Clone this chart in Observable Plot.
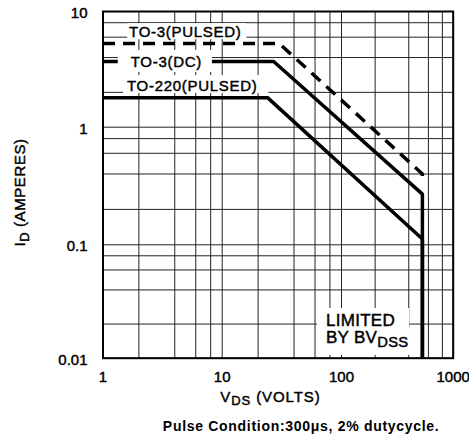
<!DOCTYPE html>
<html>
<head>
<meta charset="utf-8">
<script src="https://cdn.jsdelivr.net/npm/d3@7"></script>
<script src="https://cdn.jsdelivr.net/npm/@observablehq/plot@0.6"></script>
<style>
  body { margin: 0; background: white; }
</style>
</head>
<body>
<div id="chart"></div>
<script>
// ---- data ----
const xGrid = [1, 2, 4, 6, 8, 10, 20, 40, 60, 80, 100, 200, 400, 600, 800, 1000];
const yGrid = [0.01, 0.02, 0.04, 0.06, 0.08, 0.1, 0.2, 0.4, 0.6, 0.8, 1, 2, 4, 6, 8, 10];
const xTicks = [1, 10, 100, 1000];
const xTickLabels = ["1", "10", "100", "1000"];
const yTicks = [0.01, 0.1, 1, 10];
const yTickLabels = ["0.01", "0.1", "1", "10"];

// TO-3 (pulsed), dashed
const pulsedV = [1, 30, 530, 530];
const pulsedI = [5.3, 5.3, 0.40, 0.34];
// TO-3 (DC)
const dcV = [1, 27, 530, 530];
const dcI = [3.7, 3.7, 0.27, 0.01];
// TO-220 (pulsed)
const to220V = [1, 24, 530, 530];
const to220I = [1.8, 1.8, 0.112, 0.01];

const curveLabels = ["TO-3(PULSED)", "TO-3(DC)", "TO-220(PULSED)"];
const curveLabelV = [4.9, 3.4, 5.6];
const curveLabelI = [6.6, 3.65, 2.26];

const limitLines = ["LIMITED", "BY BV_{DSS}"];
const limitV = [74, 74];
const limitI = [0.0215, 0.0151];

const xTitle = "V_{DS} (VOLTS)";
const yTitle = "I_{D} (AMPERES)";
const caption = "Pulse Condition:300\u03bcs, 2% dutycycle.";

const font = "'Liberation Sans', Arial, Helvetica, sans-serif";
const ink = {fill: "black", stroke: "black", strokeWidth: 0.45};

const line = (V, I, opts = {}) =>
  Plot.line(V.map((v, i) => ({v, i: I[i]})), {
    x: "v", y: "i", stroke: "black", strokeWidth: 3.5,
    strokeLinejoin: "miter", strokeLinecap: "butt", ...opts
  });

const chart = Plot.plot({
  width: 469,
  height: 441,
  marginLeft: 102.5,
  marginRight: 16.3,
  marginTop: 11,
  marginBottom: 83.3,
  style: {fontFamily: font, fontSize: "15px", color: "black", background: "white"},
  x: {type: "log", domain: [1, 10, 100, 1000], range: [102.5, 221.7, 341, 452.7], axis: null},
  y: {type: "log", domain: [0.01, 0.1, 1, 10], range: [357.7, 244.3, 126.7, 11], axis: null},
  marks: [
    Plot.ruleX(xGrid, {x: d => d, stroke: "#222", strokeWidth: 1}),
    Plot.ruleY(yGrid, {y: d => d, stroke: "#222", strokeWidth: 1}),
    line(pulsedV, pulsedI, {strokeDasharray: "12,8"}),
    line(dcV, dcI),
    line(to220V, to220I),
    Plot.text(curveLabels, {x: (d, i) => curveLabelV[i], y: (d, i) => curveLabelI[i],
      text: d => d, fontSize: 15, ...ink}),
    Plot.text(limitLines, {x: (d, i) => limitV[i], y: (d, i) => limitI[i], text: d => d,
      textAnchor: "start", fontSize: 17, ...ink}),
    Plot.frame({stroke: "black", strokeWidth: 2}),
    Plot.text(xTicks, {x: d => d, frameAnchor: "bottom", lineAnchor: "middle", dy: 19,
      text: (d, i) => xTickLabels[i], fontSize: 15, ...ink}),
    Plot.text(yTicks, {y: d => d, frameAnchor: "left", lineAnchor: "middle", dx: -15.5, dy: 1.5,
      textAnchor: "end", text: (d, i) => yTickLabels[i], fontSize: 15, ...ink}),
    Plot.text([xTitle], {frameAnchor: "bottom", lineAnchor: "middle", textAnchor: "middle",
      dx: -7.7, dy: 38.5, text: d => d, fontSize: 15, ...ink}),
    Plot.text([yTitle], {frameAnchor: "left", lineAnchor: "middle", textAnchor: "middle",
      dx: -82.5, dy: 7.6, rotate: -90, text: d => d, fontSize: 15, ...ink}),
    Plot.text([caption], {frameAnchor: "bottom", lineAnchor: "middle", textAnchor: "middle",
      dx: 23, dy: 68.3, text: d => d, fontSize: 14, fontWeight: "bold", fill: "black"})
  ]
});

document.getElementById("chart").appendChild(chart);

// subscripts, letter spacing, white label boxes
const ns = "http://www.w3.org/2000/svg";
const spacing = {
  "TO-3(PULSED)": 0.7, "TO-3(DC)": 0.7, "TO-220(PULSED)": 0.7,
  "LIMITED": 0.3, "BY BV_{DSS}": 0.3,
  [xTitle]: 0.9, [yTitle]: 0.6, [caption]: 0.7
};
// padding [left, right, top, bottom] of the white box behind a label
const boxPad = {
  "TO-3(PULSED)": [2, 5, 0, -1],
  "TO-3(DC)": [13, 10, 3, 2],
  "TO-220(PULSED)": [4, 11, 2, -1],
  "LIMITED": [9, 14, 3, 0],
  "BY BV_{DSS}": [9, 4, 0, 5]
};
chart.querySelectorAll("text").forEach(t => {
  if (t.children.length) return;
  const s = t.textContent;
  if (spacing[s] !== undefined) t.setAttribute("letter-spacing", spacing[s]);
  if (s.includes("_{")) {
    t.textContent = "";
    let shifted = false;
    for (const p of s.split(/(_\{[^}]*\})/)) {
      if (!p) continue;
      const ts = document.createElementNS(ns, "tspan");
      if (p.startsWith("_{")) {
        ts.textContent = p.slice(2, -1);
        ts.setAttribute("dy", "3.5");
        ts.setAttribute("font-size", "0.87em");
        shifted = true;
      } else {
        ts.textContent = p;
        if (shifted) { ts.setAttribute("dy", "-3.5"); shifted = false; }
      }
      t.appendChild(ts);
    }
  }
  const pad = boxPad[s];
  if (pad) {
    const b = t.getBBox();
    const r = document.createElementNS(ns, "rect");
    r.setAttribute("x", b.x - pad[0]);
    r.setAttribute("y", b.y - pad[2]);
    r.setAttribute("width", b.width + pad[0] + pad[1]);
    r.setAttribute("height", b.height + pad[2] + pad[3]);
    r.setAttribute("fill", "white");
    r.setAttribute("stroke", "none");
    if (t.getAttribute("transform")) r.setAttribute("transform", t.getAttribute("transform"));
    const g = t.parentNode;
    g.insertBefore(r, g.firstChild);
  }
});
</script>
</body>
</html>
